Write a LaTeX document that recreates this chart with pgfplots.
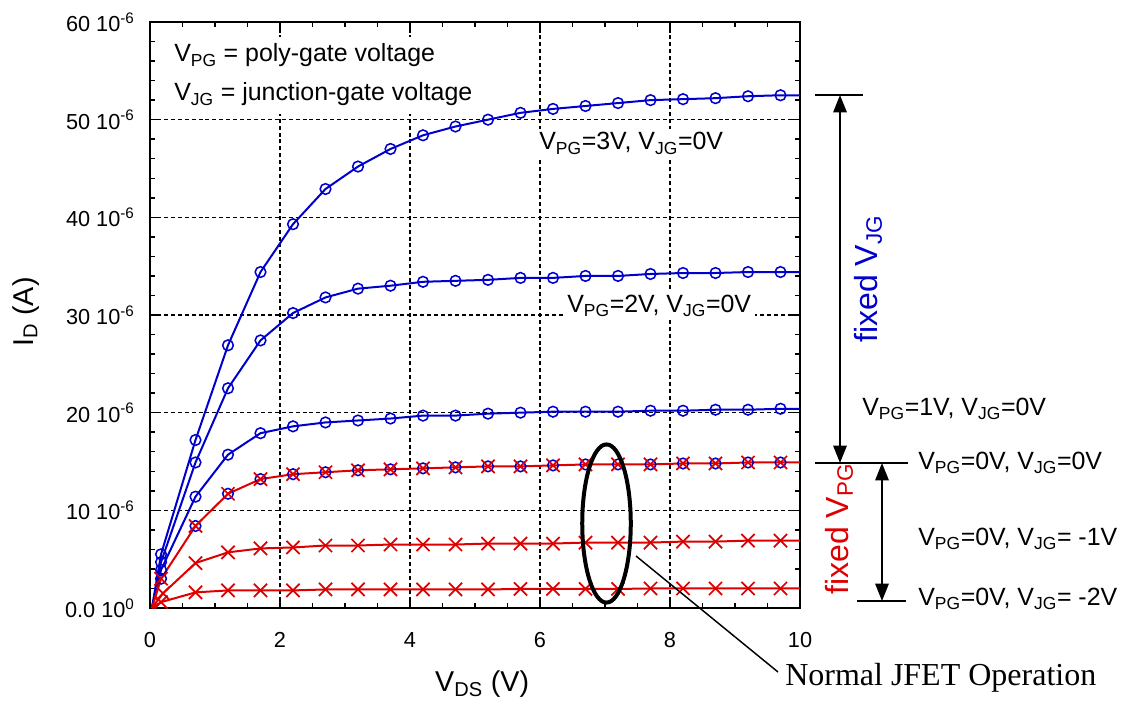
\documentclass[border=0pt]{standalone}
\usepackage{fontspec}
\setmainfont{Liberation Sans}
\newfontfamily\timesfont{Liberation Serif}
\usepackage{pgfplots}
\usepackage{pgfplotstable}
\pgfplotsset{compat=1.18}
\usetikzlibrary{arrows.meta}
\definecolor{cblue}{RGB}{0,0,205}
\definecolor{cred}{RGB}{222,0,0}

\pgfplotstableread{
x y
0.03 0
0.17 5.5
0.7 17.2
1.2 26.9
1.7 34.4
2.2 39.3
2.7 42.9
3.2 45.2
3.7 47.0
4.2 48.4
4.7 49.3
5.2 50.0
5.7 50.7
6.2 51.1
6.7 51.4
7.2 51.7
7.7 52.0
8.2 52.1
8.7 52.2
9.2 52.4
9.7 52.5
10 52.5
}\pgthree

\pgfplotstableread{
x y
0.03 0
0.17 4.7
0.7 14.9
1.2 22.5
1.7 27.4
2.2 30.2
2.7 31.8
3.2 32.7
3.7 33.0
4.2 33.4
4.7 33.5
5.2 33.6
5.7 33.8
6.2 33.8
6.7 34.0
7.2 34.0
7.7 34.2
8.2 34.3
8.7 34.3
9.2 34.4
9.7 34.4
10 34.4
}\pgtwo

\pgfplotstableread{
x y
0.03 0
0.17 3.9
0.7 11.4
1.2 15.7
1.7 17.9
2.2 18.6
2.7 19.0
3.2 19.2
3.7 19.4
4.2 19.7
4.7 19.7
5.2 19.9
5.7 20.0
6.2 20.1
6.7 20.1
7.2 20.1
7.7 20.2
8.2 20.2
8.7 20.3
9.2 20.3
9.7 20.4
10 20.4
}\pgone

\pgfplotstableread{
x y
0.03 0
0.17 3.0
0.7 8.4
1.2 11.7
1.7 13.2
2.2 13.7
2.7 13.9
3.2 14.1
3.7 14.2
4.2 14.3
4.7 14.4
5.2 14.5
5.7 14.5
6.2 14.6
6.7 14.7
7.2 14.7
7.7 14.7
8.2 14.8
8.7 14.8
9.2 14.9
9.7 14.9
10 14.9
}\jgzero

\pgfplotstableread{
x y
0.03 0
0.2 1.5
0.7 4.6
1.2 5.7
1.7 6.1
2.2 6.2
2.7 6.4
3.2 6.4
3.7 6.5
4.2 6.5
4.7 6.5
5.2 6.6
5.7 6.6
6.2 6.6
6.7 6.7
7.2 6.7
7.7 6.7
8.2 6.8
8.7 6.8
9.2 6.9
9.7 6.9
10 6.9
}\jgmone

\pgfplotstableread{
x y
0.03 0
0.17 0.6
0.7 1.6
1.2 1.8
1.7 1.8
2.2 1.8
2.7 1.9
3.2 1.9
3.7 1.9
4.2 1.9
4.7 1.9
5.2 1.9
5.7 1.95
6.2 1.95
6.7 1.95
7.2 1.95
7.7 2.0
8.2 2.0
8.7 2.0
9.2 2.0
9.7 2.0
10 2.0
}\jgmtwo

\begin{document}
\begin{tikzpicture}
\useasboundingbox (-112.5pt,-72pt) rectangle (729.75pt,456pt);
\begin{axis}[
  at={(0pt,0pt)}, anchor=south west,
  scale only axis, width=487.5pt, height=439.5pt,
  xmin=0, xmax=10, ymin=0, ymax=60,
  xtick={0,2,4,6,8,10}, ytick={0,10,20,30,40,50,60},
  xticklabels={0,2,4,6,8,10},
  yticklabels={0.0 10\textsuperscript{0},10 10\textsuperscript{-6},20 10\textsuperscript{-6},30 10\textsuperscript{-6},40 10\textsuperscript{-6},50 10\textsuperscript{-6},60 10\textsuperscript{-6}},
  minor x tick num=3, minor y tick num=4,
  tick align=inside, xtick pos=both, ytick pos=both,
  major tick length=6pt, minor tick length=3.75pt,
  every tick/.style={black, line width=1.1pt},
  axis line style={line width=1.6pt},
  grid=major,
  major grid style={black, line width=1.1pt, dash pattern=on 3pt off 2.2pt},
  ticklabel style={font=\fontsize{16.3}{19}\selectfont},
  xticklabel style={yshift=-15pt},
  yticklabel style={xshift=-8pt},
  xlabel={V\textsubscript{DS} (V)},
  ylabel={I\textsubscript{D} (A)},
  every axis x label/.style={at={(axis description cs:0.511,-0.1433)}, anchor=base, font=\fontsize{21.5}{25}\selectfont},
  every axis y label/.style={at={(axis description cs:-0.18,0.505)}, rotate=90, anchor=base, font=\fontsize{21.5}{25}\selectfont},
]
% fixed V_JG family (blue)
\addplot[cblue, line width=1.5pt, no marks] table[x=x,y=y] {\pgthree};
\addplot[cblue, line width=1.15pt, only marks, mark=o, mark size=4pt, restrict x to domain=0.1:9.8] table[x=x,y=y] {\pgthree};
\addplot[cblue, line width=1.5pt, no marks] table[x=x,y=y] {\pgtwo};
\addplot[cblue, line width=1.15pt, only marks, mark=o, mark size=4pt, restrict x to domain=0.1:9.8] table[x=x,y=y] {\pgtwo};
\addplot[cblue, line width=1.5pt, no marks] table[x=x,y=y] {\pgone};
\addplot[cblue, line width=1.15pt, only marks, mark=o, mark size=4pt, restrict x to domain=0.1:9.8] table[x=x,y=y] {\pgone};
\addplot[cblue, line width=1.15pt, only marks, mark=o, mark size=4pt, restrict x to domain=0.1:9.8] table[x=x,y=y] {\jgzero};
% fixed V_PG family (red)
\addplot[cred, line width=1.5pt, no marks] table[x=x,y=y] {\jgzero};
\addplot[cred, line width=1.3pt, only marks, mark=x, mark size=7pt, restrict x to domain=0.1:9.8] table[x=x,y=y] {\jgzero};
\addplot[cred, line width=1.5pt, no marks] table[x=x,y=y] {\jgmone};
\addplot[cred, line width=1.3pt, only marks, mark=x, mark size=7pt, restrict x to domain=0.1:9.8] table[x=x,y=y] {\jgmone};
\addplot[cred, line width=1.5pt, no marks] table[x=x,y=y] {\jgmtwo};
\addplot[cred, line width=1.3pt, only marks, mark=x, mark size=7pt, restrict x to domain=0.1:9.8] table[x=x,y=y] {\jgmtwo};
\end{axis}
% annotations in pixel coordinates of the reference
\begin{scope}[x=0.75pt, y=-0.75pt, shift={(-112.5pt,456pt)}]
  \fill[white] (155,37) rectangle (482,114);
  \begin{scope}[every node/.style={font=\fontsize{18.7}{22}\selectfont, inner sep=0pt}]
    \node[anchor=base west] at (174,62) {V\textsubscript{PG} = poly-gate voltage};
    \node[anchor=base west] at (174,101) {V\textsubscript{JG} = junction-gate voltage};
    \node[anchor=base west, fill=white, inner sep=3pt] at (535,150) {V\textsubscript{PG}=3V, V\textsubscript{JG}=0V};
    \node[anchor=base west, fill=white, inner sep=3pt] at (563,312) {V\textsubscript{PG}=2V, V\textsubscript{JG}=0V};
    \node[anchor=base west] at (862,415) {V\textsubscript{PG}=1V, V\textsubscript{JG}=0V};
    \node[anchor=base west] at (918,469) {V\textsubscript{PG}=0V, V\textsubscript{JG}=0V};
    \node[anchor=base west] at (918,545) {V\textsubscript{PG}=0V, V\textsubscript{JG}= -1V};
    \node[anchor=base west] at (918,605) {V\textsubscript{PG}=0V, V\textsubscript{JG}= -2V};
  \end{scope}
  \node[anchor=base west, rotate=90, inner sep=0pt, text=cblue, font=\fontsize{24}{28}\selectfont] at (877,343) {fixed V\textsubscript{JG}};
  \node[anchor=base west, rotate=90, inner sep=0pt, text=cred, font=\fontsize{24}{28}\selectfont] at (848,595) {fixed V\textsubscript{PG}};
  \draw[line width=1.5pt] (815,95) -- (863,95);
  \draw[line width=1.5pt] (815,463) -- (908,463);
  \draw[line width=1.5pt] (857,601) -- (906,601);
  \draw[line width=1.5pt, {Triangle[length=13pt,width=10pt]}-{Triangle[length=13pt,width=10pt]}] (840,95) -- (840,463);
  \draw[line width=1.5pt, {Triangle[length=13pt,width=10pt]}-{Triangle[length=13pt,width=10pt]}] (882,463) -- (882,601);
  \draw[line width=3pt] (606.5,523.5) ellipse [x radius=18.2pt, y radius=59.3pt];
  \draw[line width=1.1pt] (636,556) -- (778,672);
  \node[anchor=base west, inner sep=0pt, font=\timesfont\fontsize{24}{28}\selectfont] at (785,685) {Normal JFET Operation};
\end{scope}
\end{tikzpicture}
\end{document}
